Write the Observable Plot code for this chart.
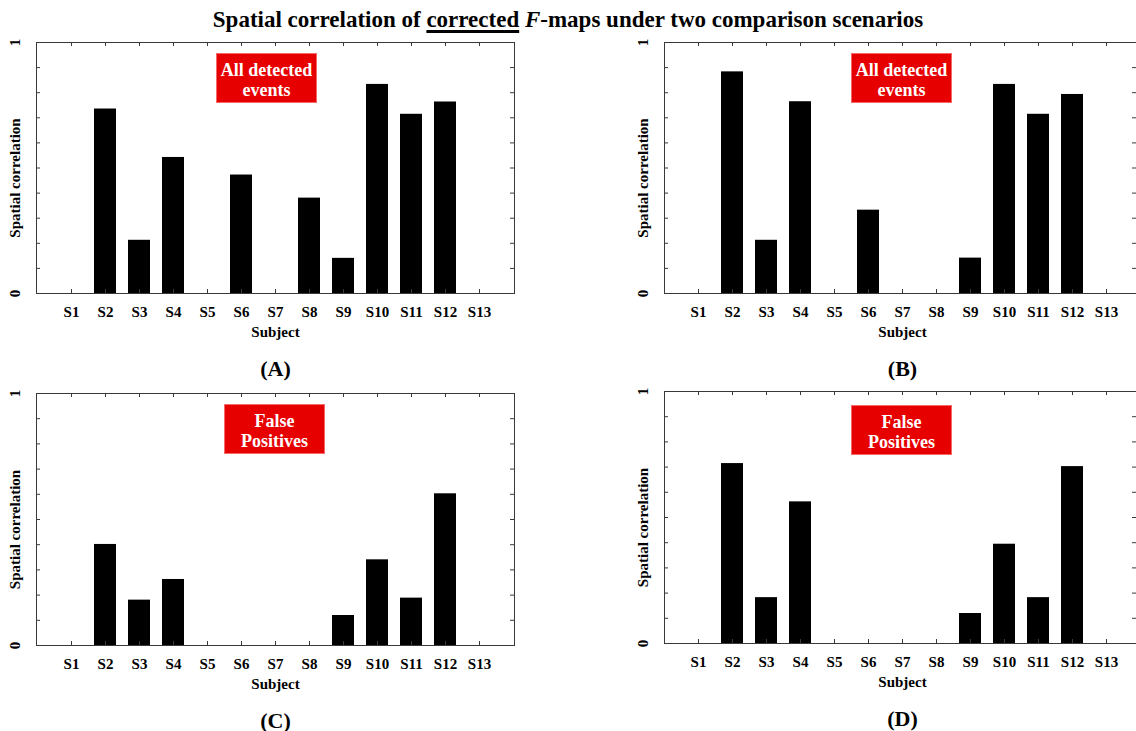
<!DOCTYPE html>
<html>
<head>
<meta charset="utf-8">
<script src="https://cdn.jsdelivr.net/npm/d3@7"></script>
<script src="https://cdn.jsdelivr.net/npm/@observablehq/plot@0.6"></script>
<style>
  html, body { margin: 0; padding: 0; background: #fff; }
  body { width: 1136px; height: 731px; overflow: hidden; position: relative; font-family: "Liberation Serif", "Times New Roman", serif; }
  #title { position: absolute; left: 0; top: 5px; width: 1136px; text-align: center; font-size: 23px; font-weight: bold; line-height: 30px; z-index: 2; }
  #title u { text-decoration-thickness: 2.5px; text-underline-offset: 3px; }
  .panel { position: absolute; }
  .panel svg { overflow: visible; max-width: none !important; }
  .badge { position: absolute; background: #e60000; color: #fff; font-weight: bold; font-size: 18px; line-height: 20px; text-align: center; display: flex; flex-direction: column; justify-content: center; padding-top: 3px; box-sizing: border-box; border: 1px solid #f46a6a; z-index: 3; }
</style>
</head>
<body>
<div id="title">Spatial correlation of <u>corrected</u> <i>F</i>-maps under two comparison scenarios</div>
<script>
const subjects = ["S1","S2","S3","S4","S5","S6","S7","S8","S9","S10","S11","S12","S13"];
const valuesA = [0, 0.735, 0.212, 0.542, 0, 0.472, 0, 0.380, 0.140, 0.833, 0.714, 0.763, 0];
const valuesB = [0, 0.883, 0.212, 0.764, 0, 0.332, 0, 0, 0.141, 0.833, 0.714, 0.793, 0];
const valuesC = [0, 0.401, 0.180, 0.262, 0, 0, 0, 0, 0.119, 0.340, 0.188, 0.602, 0];
const valuesD = [0, 0.714, 0.182, 0.562, 0, 0, 0, 0, 0.119, 0.394, 0.182, 0.702, 0];
const yTicks = [0, 0.1, 0.2, 0.3, 0.4, 0.5, 0.6, 0.7, 0.8, 0.9, 1];
const yLabels = [0, 1];
const panelLetters = ["(A)", "(B)", "(C)", "(D)"];
const badgeTexts = [["All detected", "events"], ["All detected", "events"], ["False", "Positives"], ["False", "Positives"]];

const panels = [
  {values: valuesA, left: 0,   top: 30,  width: 568, height: 353, mL: 36, mR: 54, mT: 12, mB: 90, xRange: null, badge: {l: 216, t: 53, w: 101, h: 50}},
  {values: valuesB, left: 568, top: 30,  width: 568, height: 353, mL: 96, mR: 0,  mT: 12, mB: 90, xRange: [96, 572], badge: {l: 851, t: 53, w: 101, h: 50}},
  {values: valuesC, left: 0,   top: 381, width: 568, height: 353, mL: 36, mR: 54, mT: 12, mB: 89, xRange: null, badge: {l: 224, t: 404, w: 101, h: 50}},
  {values: valuesD, left: 568, top: 379, width: 568, height: 353, mL: 96, mR: 0,  mT: 12, mB: 89, xRange: [96, 572], badge: {l: 851, t: 405, w: 101, h: 50}}
];

const frameColor = "#3a3a3a";
const txt = {fontSize: 15, fontWeight: "bold", textAnchor: "middle", lineAnchor: "middle"};
panels.forEach((p, i) => {
  const data = subjects.map((s, j) => ({subject: s, value: p.values[j]}));
  const fw = p.width - p.mL - p.mR;
  const fh = p.height - p.mT - p.mB;
  const xOpts = {type: "band", domain: subjects, paddingInner: 0.36, paddingOuter: 0.68, axis: null};
  if (p.xRange) xOpts.range = p.xRange;
  const chart = Plot.plot({
    width: p.width,
    height: p.height,
    marginLeft: p.mL, marginRight: p.mR, marginTop: p.mT, marginBottom: p.mB,
    style: {fontFamily: "'Liberation Serif', 'Times New Roman', serif", fontWeight: "bold", fontSize: "15px", background: "transparent", color: "#000", maxWidth: "none"},
    x: xOpts,
    y: {domain: [0, 1], axis: null},
    marks: [
      Plot.barY(data, {x: "subject", y: "value", fill: "#000"}),
      Plot.tickY(yTicks, {y: d => d, stroke: frameColor, insetRight: fw - 4}),
      Plot.tickY(yTicks, {y: d => d, stroke: frameColor, insetLeft: fw - 4}),
      Plot.tickX(subjects, {x: d => d, stroke: frameColor, insetBottom: fh - 4}),
      Plot.tickX(subjects, {x: d => d, stroke: frameColor, insetTop: fh - 4}),
      Plot.frame({stroke: frameColor}),
      Plot.axisX({tickSize: 0, tickPadding: 13, label: null, fontSize: 15, fontWeight: "bold"}),
      Plot.text(yLabels, {y: d => d, text: d => String(d), frameAnchor: "left", dx: -21, rotate: -90, ...txt}),
      Plot.text(["Spatial correlation"], {text: d => d, frameAnchor: "left", dx: -21, dy: 10, rotate: -90, ...txt}),
      Plot.text(["Subject"], {text: d => d, x: () => subjects[6], dx: p.xRange ? 0 : 0, frameAnchor: "bottom", dy: 39, ...txt}),
      Plot.text([panelLetters[i]], {text: d => d, x: () => subjects[6], frameAnchor: "bottom", dy: 75, ...txt, fontSize: 22})
    ]
  });
  const wrap = document.createElement("div");
  wrap.className = "panel";
  wrap.style.left = p.left + "px";
  wrap.style.top = p.top + "px";
  wrap.style.width = p.width + "px";
  wrap.style.height = p.height + "px";
  wrap.appendChild(chart);
  document.body.appendChild(wrap);

  const b = document.createElement("div");
  b.className = "badge";
  b.style.left = p.badge.l + "px";
  b.style.top = p.badge.t + "px";
  b.style.width = p.badge.w + "px";
  b.style.height = p.badge.h + "px";
  badgeTexts[i].forEach(t => { const s = document.createElement("div"); s.textContent = t; b.appendChild(s); });
  document.body.appendChild(b);
});
</script>
</body>
</html>
